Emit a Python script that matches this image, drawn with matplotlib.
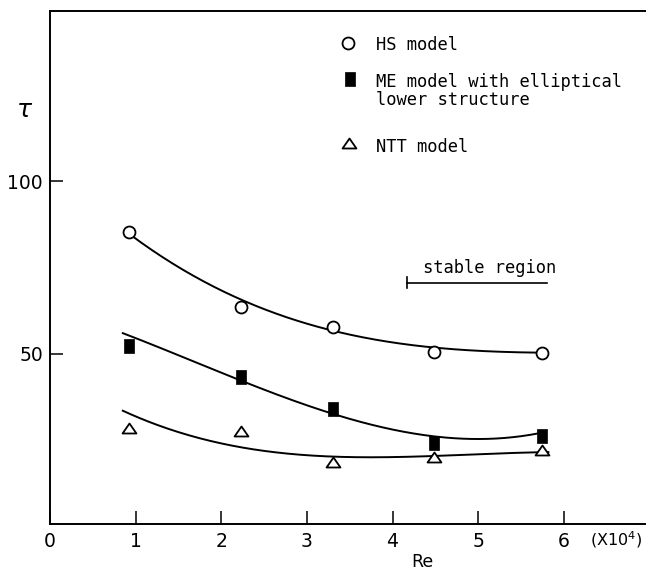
import numpy as np
import matplotlib
matplotlib.use('Agg')
import matplotlib.pyplot as plt
from matplotlib.path import Path

#data (Re in units of 10^4)
re_pts = [0.92, 2.23, 3.31, 4.48, 5.75]
hs_tau = [85.3, 63.6, 57.7, 50.7, 50.2]
me_tau = [52.3, 43.4, 34.0, 24.1, 26.2]
ntt_tau = [28.5, 27.7, 18.6, 20.2, 22.2]

#points along the drawn fit curves
hs_curve_x = [0.95, 2.23, 2.80, 3.31, 4.48, 5.75]
hs_curve_y = [84.5, 65.0, 60.6, 57.5, 51.3, 50.5]
me_curve_x = [0.85, 2.24, 2.92, 3.31, 4.44, 5.75]
me_curve_y = [56.0, 42.5, 35.2, 32.9, 26.3, 27.2]
ntt_curve_x = [0.85, 2.41, 2.92, 3.32, 4.47, 5.82]
ntt_curve_y = [33.5, 22.7, 20.5, 19.9, 20.7, 21.5]

xticks = [0, 1, 2, 3, 4, 5, 6]
yticks = [50, 100]

#marker shapes: tall rectangle and flat triangle
rect = [(-0.35, -0.5), (0.35, -0.5), (0.35, 0.5), (-0.35, 0.5), (-0.35, -0.5)]
rect_marker = Path(np.array(rect), closed=True)
tri = [(0, 0.36), (-0.5, -0.36), (0.5, -0.36), (0, 0.36)]
tri_marker = Path(np.array(tri), closed=True)

W, H = 646, 573
fig = plt.figure(figsize=(W / 100, H / 100), dpi=100)
ax = fig.add_axes([50 / W, 1 - 524 / H, 596 / W, 513 / H])
ax.set_xlim(0, 6.96)
ax.set_ylim(0.72, 149.4)

#fitted curves
for cx, cy in [(hs_curve_x, hs_curve_y), (me_curve_x, me_curve_y), (ntt_curve_x, ntt_curve_y)]:
    coef = np.polyfit(cx, cy, 3)
    xx = np.linspace(cx[0], cx[-1], 200)
    ax.plot(xx, np.polyval(coef, xx), color='black', lw=1.4)

#data points
ax.plot(re_pts, hs_tau, 'o', ms=8.6, mfc='white', mec='black', mew=1.3, ls='none', zorder=3)
ax.plot(re_pts, me_tau, marker=rect_marker, ms=10, mfc='black', mec='black', mew=0.5, ls='none', zorder=3)
ax.plot(re_pts, ntt_tau, marker=tri_marker, ms=10, mfc='white', mec='black', mew=1.3, ls='none', zorder=3)

#axes styling
ax.spines['right'].set_visible(False)
for s in ['left', 'bottom', 'top']:
    ax.spines[s].set_linewidth(1.4)
ax.set_xticks(xticks)
ax.set_yticks(yticks)
ax.tick_params(direction='in', length=9.4, width=1.1, labelsize=13.5, top=False)
ax.tick_params(axis='x', pad=6)
ax.tick_params(axis='y', pad=5)

def px(x, y):
    return x / W, 1 - y / H

mono = 'DejaVu Sans Mono'

#axis labels
fig.text(*px(25, 110), r'$\tau$', fontsize=18, ha='center', va='center')
fig.text(*px(422, 562), 'Re', fontsize=12.5, ha='center', va='center')
fig.text(*px(590, 540), r'(X10$^4$)', fontsize=11.5, ha='left', va='center')

#legend
ax.plot(*px(348, 43.3), 'o', ms=8.6, mfc='white', mec='black', mew=1.3, transform=fig.transFigure, clip_on=False)
ax.plot(*px(350, 78.7), marker=rect_marker, ms=10, mfc='black', mec='black', mew=0.5, transform=fig.transFigure, clip_on=False)
ax.plot(*px(349.3, 143.3), marker=tri_marker, ms=10, mfc='white', mec='black', mew=1.3, transform=fig.transFigure, clip_on=False)
fig.text(*px(376, 50), 'HS model', family=mono, fontsize=12.3, va='baseline')
fig.text(*px(376, 86.7), 'ME model with elliptical', family=mono, fontsize=12.3, va='baseline')
fig.text(*px(376, 105), 'lower structure', family=mono, fontsize=12.3, va='baseline')
fig.text(*px(376, 151.7), 'NTT model', family=mono, fontsize=12.3, va='baseline')

#stable region bracket
ax.plot([4.17, 5.80], [70.7, 70.7], color='black', lw=1.2)
ax.plot([4.17, 4.17], [69.0, 72.4], color='black', lw=1.2)
fig.text(*px(423, 273.3), 'stable region', family=mono, fontsize=12.3, va='baseline')

fig.savefig('out.png', dpi=100)
